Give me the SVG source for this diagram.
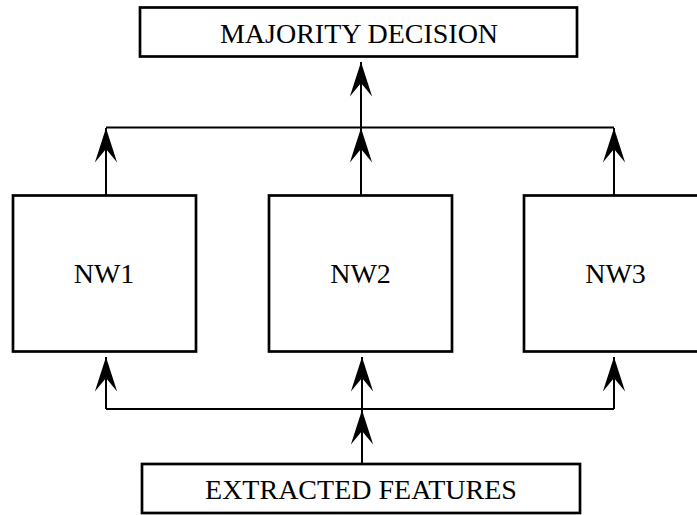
<svg xmlns="http://www.w3.org/2000/svg" width="697" height="515" viewBox="0 0 697 515">
<style>
.box{fill:#fff;stroke:#000;stroke-width:2.7}
.lbl{font-family:"Liberation Serif","Times New Roman",serif;font-size:28px;fill:#000;text-anchor:middle}
.wire{fill:none;stroke:#000;stroke-width:2}
</style>
<defs>
<marker id="ah" markerUnits="userSpaceOnUse" markerWidth="40" markerHeight="30" viewBox="-33 -12 36 24" refX="0" refY="0" orient="auto">
<path d="M0,0 L-31,-10 L-19,0 L-31,10 Z" fill="#000"/>
</marker>
</defs>
<rect width="697" height="515" fill="#fff"/>
<g id="connectors">
<path class="wire" d="M106,127.5 H614"/>
<path class="wire" d="M106,409 H614"/>
<line class="wire" x1="106" y1="195" x2="106" y2="128" marker-end="url(#ah)"/>
<line class="wire" x1="361" y1="195" x2="361" y2="128" marker-end="url(#ah)"/>
<line class="wire" x1="614" y1="195" x2="614" y2="128" marker-end="url(#ah)"/>
<line class="wire" x1="361" y1="127.5" x2="361" y2="62" marker-end="url(#ah)"/>
<line class="wire" x1="106" y1="409" x2="106" y2="357" marker-end="url(#ah)"/>
<line class="wire" x1="362" y1="409" x2="362" y2="357" marker-end="url(#ah)"/>
<line class="wire" x1="614" y1="409" x2="614" y2="357" marker-end="url(#ah)"/>
<line class="wire" x1="362" y1="464" x2="362" y2="410" marker-end="url(#ah)"/>
</g>
<g id="majority">
<rect class="box" x="140" y="7.5" width="437" height="49"/>
<text class="lbl" x="359" y="43">MAJORITY DECISION</text>
</g>
<g id="nw1">
<rect class="box" x="13" y="195.5" width="183" height="156"/>
<text class="lbl" x="104" y="283">NW1</text>
</g>
<g id="nw2">
<rect class="box" x="269" y="195.5" width="183" height="156"/>
<text class="lbl" x="360.5" y="283">NW2</text>
</g>
<g id="nw3">
<rect class="box" x="524" y="195.5" width="183" height="156"/>
<text class="lbl" x="615.5" y="283">NW3</text>
</g>
<g id="features">
<rect class="box" x="142" y="464" width="438" height="49"/>
<text class="lbl" x="361" y="499">EXTRACTED FEATURES</text>
</g>
</svg>
